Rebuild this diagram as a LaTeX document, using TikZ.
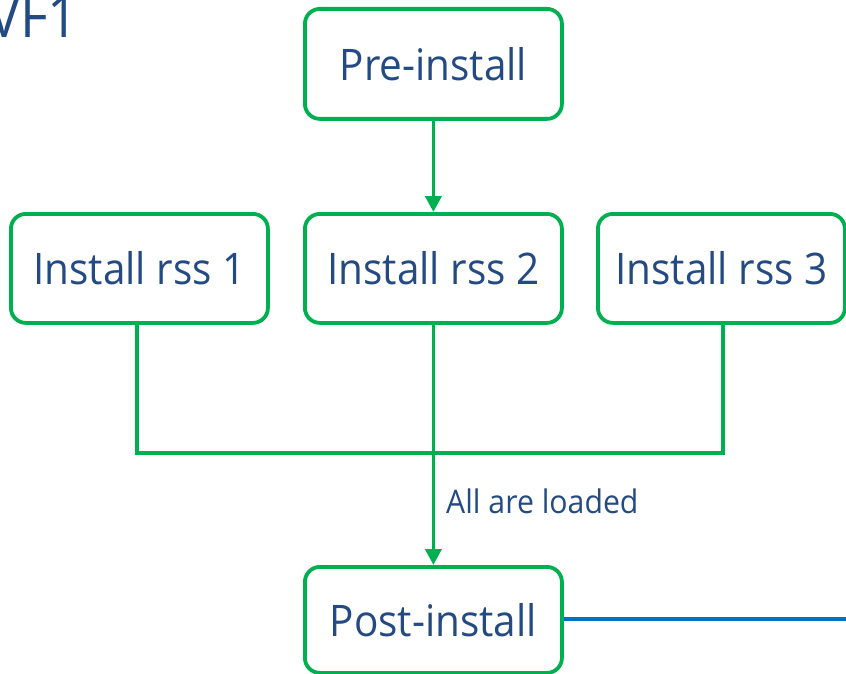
\documentclass[tikz,border=0pt]{standalone}
\usepackage{fontspec}
\setmainfont{Open Sans}[FakeStretch=0.93]
\usetikzlibrary{arrows.meta,calc}
\definecolor{boxgreen}{RGB}{0,176,80}
\definecolor{txtblue}{RGB}{35,74,130}
\definecolor{lineblue}{RGB}{0,112,192}
\begin{document}
\begin{tikzpicture}[x=1pt,y=-1pt,
  stepbox/.style={draw=boxgreen,line width=3.8pt,rounded corners=15pt,
    text=txtblue,font=\fontsize{43.5}{50}\selectfont,inner sep=0pt,anchor=north west},
  conn/.style={draw=boxgreen,line width=3.8pt},
  arr/.style={conn,-{Triangle[length=16pt,width=16pt]}},
  lbl/.style={text=txtblue,font=\fontsize{32.5}{36}\selectfont,inner sep=0pt}]
\useasboundingbox (0,0) rectangle (846,674);
\node[text=txtblue,font=\fontsize{58}{62}\selectfont,inner sep=0pt,anchor=base east] (vf) at (79,38) {VF1};
\node[stepbox,minimum width=257pt,minimum height=110pt] (pre) at (303,7) {Pre-install};
\node[stepbox,minimum width=257pt,minimum height=109pt] (r1) at (9,212) {Install rss 1};
\node[stepbox,minimum width=257pt,minimum height=109pt] (r2) at (303,212) {Install rss 2};
\node[stepbox,minimum width=247pt,minimum height=109pt] (r3) at (596,212) {Install rss 3};
\node[stepbox,minimum width=257pt,minimum height=106pt] (post) at (303,565) {Post-install};
\coordinate (j1) at (137,453);
\coordinate (j3) at (723,453);
\coordinate (bend) at (846,619);
\draw[arr] (pre.south) -- (r2.north);
\draw[arr] (r2.south) -- (post.north);
\draw[conn,line join=miter] (j1 |- r1.south) -- (j1) -- (j3) -- (j3 |- r3.south);
\node[lbl,anchor=base west] (load) at (446,513) {All are loaded};
\draw[draw=lineblue,line width=3.8pt] (post.east |- bend) -- (bend);
\end{tikzpicture}
\end{document}
